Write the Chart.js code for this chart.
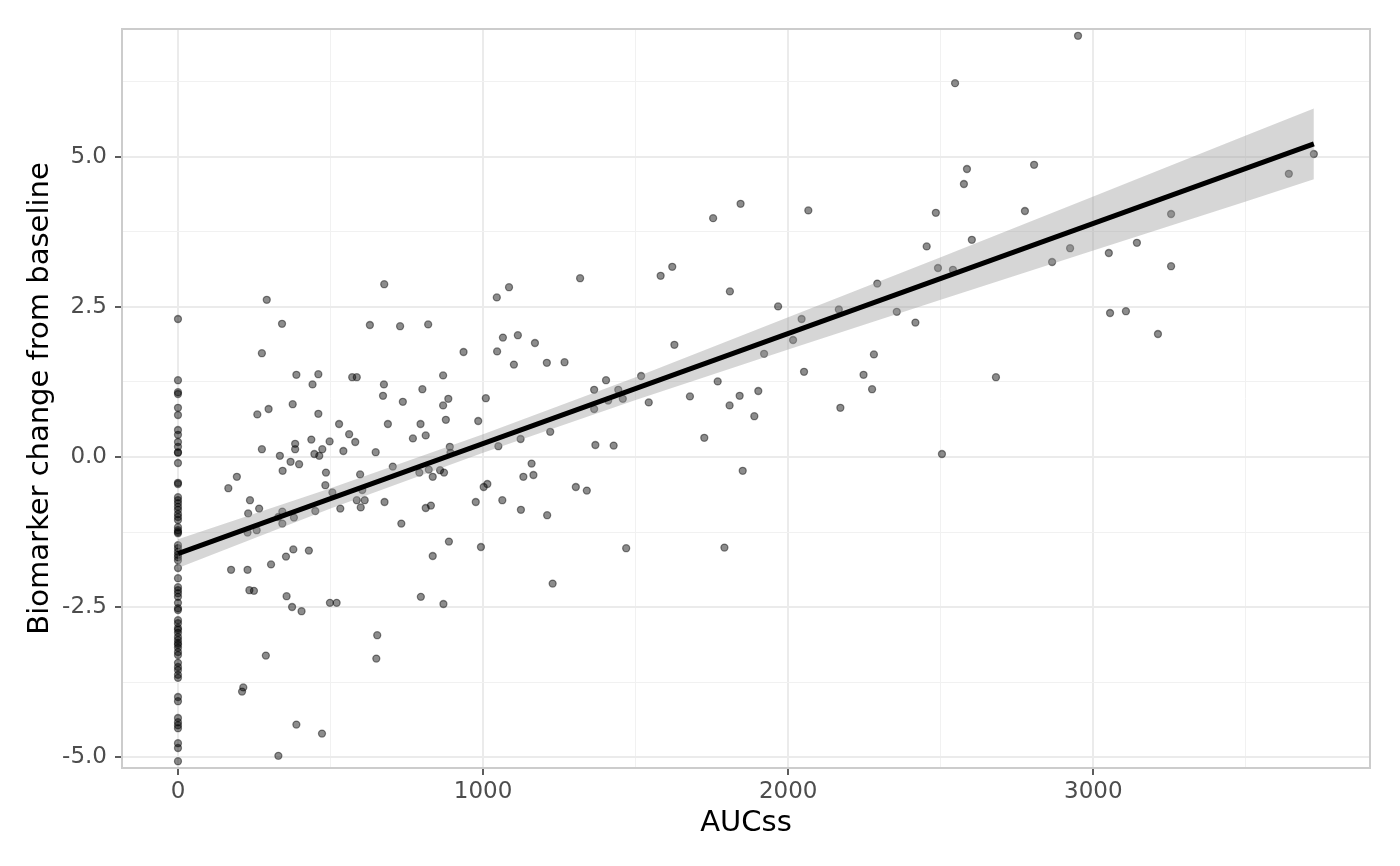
<!DOCTYPE html>
<html>
<head>
<meta charset="utf-8">
<script src="https://cdn.jsdelivr.net/npm/chart.js@4.4.1/dist/chart.umd.min.js"></script>
<style>
  html, body { margin: 0; padding: 0; background: #fff; }
  canvas { display: block; }
</style>
</head>
<body>
<canvas id="auc-chart" width="1400" height="866"></canvas>
<script>
// placebo subjects, all at AUCss = 0
const placeboChange = [
    2.30, 1.28, 1.08, 1.05, 0.82, 0.70, 0.45, 0.37, 0.25, 0.17, 0.08, 0.07, -0.10,
    -0.43, -0.45, -0.67, -0.72, -0.77, -0.83, -0.88, -0.95, -1.00, -1.05, -1.17,
    -1.22, -1.25, -1.27, -1.47, -1.52, -1.58, -1.63, -1.67, -1.72, -1.85, -2.02,
    -2.17, -2.22, -2.27, -2.33, -2.43, -2.52, -2.55, -2.72, -2.77, -2.85, -2.88,
    -2.93, -3.00, -3.05, -3.10, -3.13, -3.18, -3.25, -3.30, -3.43, -3.50, -3.55,
    -3.63, -3.68, -4.00, -4.07, -4.35, -4.42, -4.47, -4.52, -4.77, -4.85, -5.07
];

// active subjects
const activeAUC = [
    291, 341, 629, 275, 388, 460, 441, 571, 586, 376, 260, 297, 460, 528, 561, 581,
    437, 497, 384, 384, 275, 473, 447, 463, 542, 648, 334, 369, 397, 343, 193, 165,
    485, 597, 483, 506, 236, 266, 230, 342, 329, 342, 380, 450, 532, 586, 612, 599,
    604,
    228, 258, 378, 429, 354, 305, 174, 228, 234, 249, 356, 374, 405, 498, 520, 653,
    650, 288, 214, 210, 388, 472, 329,
    676, 1085, 1045, 1318, 728, 820, 1065, 1114, 1170, 936, 1046, 1101, 1209, 1267,
    869, 675, 672, 801, 737, 886, 869, 1009, 1364, 1403, 1443, 1458, 1410, 1364,
    1518, 688, 795, 878, 984, 812, 770, 891, 893, 1220, 1123, 1050, 1368, 1428,
    704, 791, 822, 835, 859, 872, 1159, 1132, 1165, 1002, 1014, 1304, 1340, 677,
    812, 829, 976, 1063, 1124, 1210,
    732, 888, 993, 835, 1469, 1228, 796, 870,
    1754, 1844, 2066, 2454, 1582, 1620, 1809, 2292, 1967, 2044, 2166, 2356, 2417,
    2016, 1627, 1921, 2281, 1769, 2052, 2247, 2275, 1543, 1678, 1808, 1841, 1902,
    1889, 2171, 1725, 1851, 1791,
    2484, 2491, 2540, 2586, 2576, 2602, 2776, 2806, 2865, 2924, 3051, 3143, 3255,
    3255, 3055, 3107, 3212, 2681, 2504, 3641, 3723, 2547, 2950
];
const activeChange = [
    2.62, 2.22, 2.20, 1.73, 1.37, 1.38, 1.21, 1.33, 1.33, 0.88, 0.71, 0.80, 0.72, 0.55, 0.38, 0.25,
    0.29, 0.26, 0.22, 0.13, 0.13, 0.13, 0.05, 0.02, 0.10, 0.08, 0.02, -0.08, -0.12, -0.23, -0.33, -0.52,
    -0.26, -0.29, -0.47, -0.59, -0.72, -0.86, -0.94, -0.91, -1.00, -1.11, -1.01, -0.90, -0.86, -0.72, -0.72, -0.84,
    -0.55,
    -1.26, -1.22, -1.54, -1.56, -1.66, -1.79, -1.88, -1.88, -2.22, -2.23, -2.32, -2.50, -2.57, -2.43, -2.43, -2.97,
    -3.36, -3.31, -3.84, -3.91, -4.46, -4.61, -4.98,
    2.88, 2.83, 2.66, 2.98, 2.18, 2.21, 1.99, 2.03, 1.90, 1.75, 1.76, 1.54, 1.57, 1.58,
    1.36, 1.21, 1.02, 1.13, 0.92, 0.97, 0.86, 0.98, 1.12, 1.28, 1.12, 0.97, 0.94, 0.80,
    1.35, 0.55, 0.55, 0.62, 0.60, 0.36, 0.31, 0.17, 0.07, 0.42, 0.30, 0.18, 0.20, 0.19,
    -0.16, -0.26, -0.21, -0.33, -0.22, -0.26, -0.11, -0.33, -0.30, -0.50, -0.45, -0.50, -0.56, -0.75,
    -0.85, -0.81, -0.75, -0.72, -0.88, -0.97,
    -1.11, -1.41, -1.50, -1.65, -1.52, -2.11, -2.33, -2.45,
    3.98, 4.22, 4.11, 3.51, 3.02, 3.17, 2.76, 2.89, 2.51, 2.30, 2.46, 2.42, 2.24,
    1.95, 1.87, 1.72, 1.71, 1.26, 1.42, 1.37, 1.13, 0.91, 1.01, 0.86, 1.02, 1.10,
    0.68, 0.82, 0.32, -0.23, -1.51,
    4.07, 3.15, 3.12, 4.80, 4.55, 3.62, 4.10, 4.87, 3.25, 3.48, 3.40, 3.57, 4.05,
    3.18, 2.40, 2.43, 2.05, 1.33, 0.05, 4.72, 5.05, 6.23, 7.02
];

// linear fit and its confidence band
const fitX = [0, 3723];
const fitY = [-1.61, 5.22];
const bandX = [0, 500, 1000, 1500, 2000, 2500, 3000, 3500, 3723];
const bandLow = [-1.85, -0.86, 0.07, 0.95, 1.79, 2.62, 3.44, 4.26, 4.63];
const bandHigh = [-1.37, -0.52, 0.38, 1.33, 2.33, 3.33, 4.34, 5.36, 5.81];

const xGrid = [0, 500, 1000, 1500, 2000, 2500, 3000, 3500];
const xLabels = [0, 1000, 2000, 3000];
const yGrid = [-5, -3.75, -2.5, -1.25, 0, 1.25, 2.5, 3.75, 5, 6.25];
const yLabels = [-5, -2.5, 0, 2.5, 5];

const pts = (xs, ys) => xs.map((x, i) => ({x: x, y: ys[i]}));
const scatterData = placeboChange.map(y => ({x: 0, y: y}))
    .concat(pts(activeAUC, activeChange));

const FONT = 'DejaVu Sans';

// grey panel border drawn over everything, like ggplot
const panelBorder = {
    id: 'panelBorder',
    afterDatasetsDraw(chart) {
        const {ctx, chartArea: a} = chart;
        ctx.save();
        ctx.strokeStyle = '#cccccc';
        ctx.lineWidth = 2;
        ctx.strokeRect(a.left, a.top, a.right - a.left, a.bottom - a.top);
        ctx.restore();
    }
};

function gridOpts(labels) {
    return {
        color: c => labels.includes(c.tick.value) ? '#ebebeb' : '#f1f1f1',
        lineWidth: c => labels.includes(c.tick.value) ? 2 : 1,
        tickLength: 7,
        tickWidth: 1.6,
        tickColor: c => labels.includes(c.tick.value) ? '#333333' : 'rgba(0,0,0,0)'
    };
}

window.onload = function() {
    const ctx = document.getElementById('auc-chart').getContext('2d');
    new Chart(ctx, {
        type: 'scatter',
        data: {
            datasets: [{
                type: 'line',
                data: pts(fitX, fitY),
                borderColor: '#000000',
                borderWidth: 5,
                pointRadius: 0,
                tension: 0,
                fill: false,
                order: 1
            }, {
                type: 'line',
                data: pts(bandX, bandLow),
                borderColor: 'rgba(0,0,0,0)',
                pointRadius: 0,
                tension: 0,
                fill: false,
                order: 2
            }, {
                type: 'line',
                data: pts(bandX, bandHigh),
                borderColor: 'rgba(0,0,0,0)',
                backgroundColor: 'rgba(153,153,153,0.4)',
                pointRadius: 0,
                tension: 0,
                fill: '-1',
                order: 3
            }, {
                data: scatterData,
                pointRadius: 3.5,
                borderWidth: 1.3,
                backgroundColor: 'rgba(0,0,0,0.45)',
                borderColor: 'rgba(0,0,0,0.45)',
                order: 5
            }]
        },
        options: {
            responsive: false,
            animation: false,
            devicePixelRatio: 1,
            events: [],
            layout: { padding: { left: 0, right: 30, top: 29, bottom: 0 } },
            plugins: {
                legend: { display: false },
                tooltip: { enabled: false }
            },
            scales: {
                x: {
                    type: 'linear',
                    min: -183.5,
                    max: 3907,
                    afterBuildTicks: s => { s.ticks = xGrid.map(v => ({value: v})); },
                    afterFit: s => { s.height = 98; },
                    border: { display: false },
                    grid: gridOpts(xLabels),
                    ticks: {
                        autoSkip: false,
                        maxRotation: 0,
                        padding: 3,
                        color: '#4d4d4d',
                        font: { family: FONT, size: 23 },
                        callback: v => xLabels.includes(v) ? String(v) : ''
                    },
                    title: {
                        display: true,
                        text: 'AUCss',
                        color: '#000000',
                        font: { family: FONT, size: 29 },
                        padding: { top: 0, bottom: 25 }
                    }
                },
                y: {
                    type: 'linear',
                    min: -5.183,
                    max: 7.133,
                    afterBuildTicks: s => { s.ticks = yGrid.map(v => ({value: v})); },
                    afterFit: s => { s.width = 122; },
                    border: { display: false },
                    grid: gridOpts(yLabels),
                    ticks: {
                        autoSkip: false,
                        padding: 8,
                        color: '#4d4d4d',
                        font: { family: FONT, size: 23 },
                        callback: v => yLabels.includes(v) ? v.toFixed(1) : ''
                    },
                    title: {
                        display: true,
                        text: 'Biomarker change from baseline',
                        color: '#000000',
                        font: { family: FONT, size: 29 },
                        padding: { top: 23, bottom: 0 }
                    }
                }
            }
        },
        plugins: [panelBorder]
    });
};
</script>
</body>
</html>
